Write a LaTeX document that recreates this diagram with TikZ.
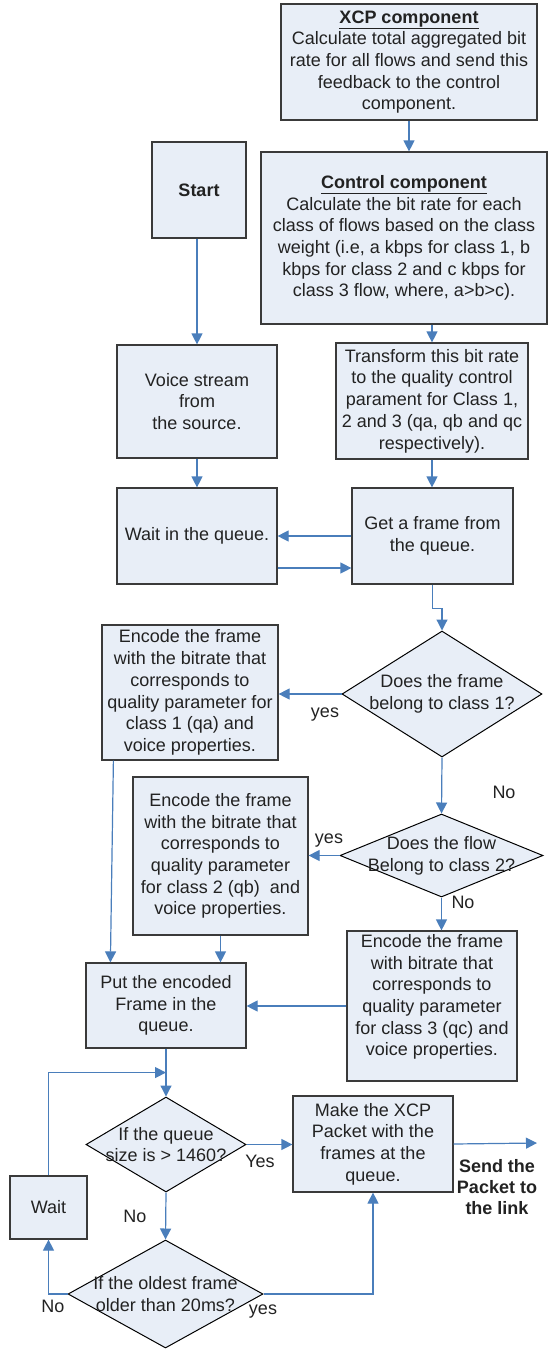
\documentclass[tikz,border=0pt]{standalone}
\usepackage{fontspec}
\setmainfont{Liberation Sans}
\usetikzlibrary{arrows.meta,shapes.geometric,calc}
\definecolor{boxfill}{HTML}{E8EEF7}
\definecolor{boxline}{HTML}{3A3A3A}
\definecolor{conn}{HTML}{4A7EBB}
\definecolor{txtc}{HTML}{222222}
\begin{document}
\begin{tikzpicture}[x=1pt,y=-1pt,
  box/.style={draw=boxline, line width=1.2pt, fill=boxfill, inner sep=0pt, align=center, text=txtc, font=\fontsize{18}{21.7}\selectfont},
  dia/.style={diamond, draw=black, line width=1pt, fill=boxfill, inner sep=0pt},
  dtxt/.style={inner sep=0pt, align=center, text=txtc, font=\fontsize{18}{21.7}\selectfont},
  lbl/.style={inner sep=0pt, align=center, text=txtc, font=\fontsize{18}{21.7}\selectfont},
  arr/.style={draw=conn, line width=1.2pt, -{Triangle[length=11pt,width=11pt]}},
  ln/.style={draw=conn, line width=1.2pt}]
\useasboundingbox (0,0) rectangle (548,1349);

% boxes
\node[box, minimum width=256pt, minimum height=116pt] (xcp) at (409,62)
  {\underline{\textbf{XCP component}}\\Calculate total aggregated bit\\rate for all flows and send this\\feedback to the control\\component.};
\node[box, minimum width=286pt, minimum height=172pt] (ctrl) at (404,238)
  {\underline{\textbf{Control component}}\\Calculate the bit rate for each\\class of flows based on the class\\weight (i.e, a kbps for class 1, b\\kbps for class 2 and c kbps for\\class 3 flow, where, a>b>c).};
\node[box, minimum width=94pt, minimum height=96pt] (start) at (199,190) {\textbf{Start}};
\node[box, minimum width=160pt, minimum height=113pt] (voice) at (197,401.5) {Voice stream\\from\\the source.};
\node[box, minimum width=192pt, minimum height=116pt] (trans) at (432,401)
  {Transform this bit rate\\to the quality control\\parament for Class 1,\\2 and 3 (qa, qb and qc\\respectively).};
\node[box, minimum width=160pt, minimum height=96pt] (waitq) at (197,536) {Wait in the queue.};
\node[box, minimum width=161pt, minimum height=96pt] (getf) at (432.5,536) {Get a frame from\\the queue.};
\node[box, minimum width=176pt, minimum height=135pt] (enc1) at (190,692.5)
  {Encode the frame\\with the bitrate that\\corresponds to\\quality parameter for\\class 1 (qa) and\\voice properties.};
\node[box, minimum width=175pt, minimum height=158pt] (enc2) at (220.5,856)
  {Encode the frame\\with the bitrate that\\corresponds to\\quality parameter\\for class 2 (qb)\ \ and\\voice properties.};
\node[box, minimum width=170pt, minimum height=150pt] (enc3) at (432,1006)
  {Encode the frame\\with bitrate that\\corresponds to\\quality parameter\\for class 3 (qc) and\\voice properties.\\\mbox{}};
\node[box, minimum width=160pt, minimum height=85pt] (put) at (166,1005.5) {Put the encoded\\Frame in the\\queue.};
\node[box, minimum width=160pt, minimum height=96pt] (make) at (373,1144) {Make the XCP\\Packet with the\\frames at the\\queue.};
\node[box, minimum width=77pt, minimum height=63pt] (waitb) at (48.5,1207.5) {Wait};

% diamonds
\node[dia, minimum width=200pt, minimum height=126pt] (d1) at (442,694) {};
\node[dtxt] (d1t) at (d1.center) {Does the frame\\belong to class 1?};
\node[dia, minimum width=203pt, minimum height=83pt] (d2) at (441.5,855.5) {};
\node[dtxt] (d2t) at (d2.center) {Does the flow\\Belong to class 2?};
\node[dia, minimum width=160pt, minimum height=95pt] (d3) at (166,1144.5) {};
\node[dtxt] (d3t) at (d3.center) {If the queue\\size is > 1460?};
\node[dia, minimum width=195pt, minimum height=108pt] (d4) at (165.5,1294) {};
\node[dtxt] (d4t) at (d4.center) {If the oldest frame\\older than 20ms?};

% connectors
\draw[arr] (xcp.south) -- (xcp.south |- ctrl.north);
\draw[arr] (trans.north |- ctrl.south) -- (trans.north);
\draw[arr] (trans.south) -- (getf.north -| trans.south);
\draw[arr] (voice.north |- start.south) -- (voice.north);
\draw[arr] (voice.south) -- (waitq.north);
\draw[arr] (getf.west) -- (waitq.east);
\draw[arr] ([yshift=-32pt]waitq.east) -- ([yshift=-32pt]getf.west);
\draw[arr] (getf.south) -- ++(0,24) -| (d1.north);
\draw[arr] (d1.west) -- (d1.west -| enc1.east);
\draw[arr] (d1.south) -- (d2.north);
\draw[arr] (d2.west) -- (d2.west -| enc2.east);
\draw[arr] (d2.south) -- (d2.south |- enc3.north);
\draw[arr] ([xshift=12pt]enc1.south west) -- ([xshift=25pt]put.north west);
\draw[arr] (enc2.south) -- (enc2.south |- put.north);
\draw[arr] (enc3.west) -- (enc3.west -| put.east);
\coordinate (mrg) at ($(put.south)!0.5!(d3.north)$);
\draw[arr] (put.south) -- (d3.north);
\draw[arr] (waitb.north) |- (mrg);
\draw[arr] (d3.south) -- (d4.north);
\draw[arr] (d3.east) -- (d3.east -| make.west);
\draw[arr] (d4.west) -| (waitb.south);
\draw[arr] (d4.east) -| (make.south);
\coordinate (out) at (537,1143);
\draw[arr] (make.east) -- (out);

% labels
\node[lbl] (l1) at (325,715) {yes};
\node[lbl] (l2) at (504,792) {No};
\node[lbl] (l3) at (329,841) {yes};
\node[lbl] (l4) at (463,902) {No};
\node[lbl] (l5) at (260,1161) {Yes};
\node[lbl] (l6) at (135,1216) {No};
\node[lbl] (l7) at (53,1306) {No};
\node[lbl] (l8) at (263,1312) {yes};
\node[lbl, font=\fontsize{18}{21}\selectfont\bfseries] (send) at (497,1187) {Send the\\Packet to\\the link};
\end{tikzpicture}
\end{document}
